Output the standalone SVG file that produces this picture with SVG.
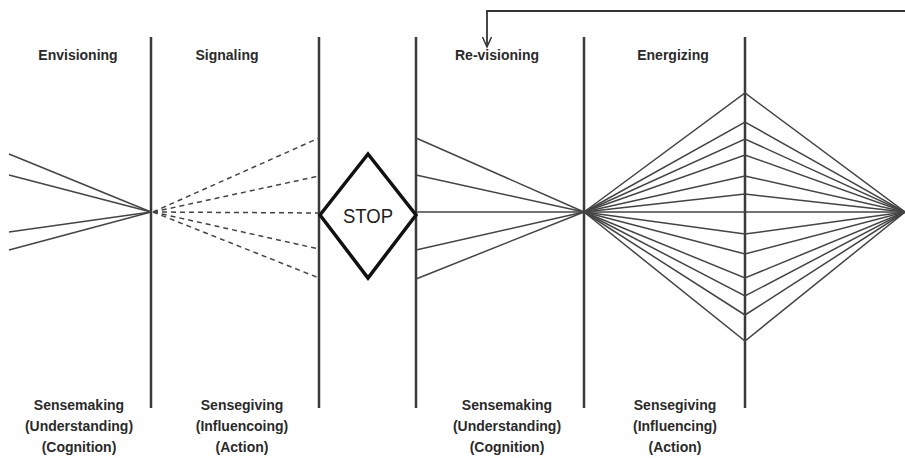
<svg xmlns="http://www.w3.org/2000/svg" width="905" height="458" viewBox="0 0 905 458">
<style>
.lbl{font-family:"Liberation Sans",Arial,sans-serif;font-weight:bold;font-size:14px;fill:#2a2a2a;text-anchor:middle}
.vl{stroke:#3a3a3a;stroke-width:2.5;fill:none}
.ln{stroke:#444;stroke-width:1.5;fill:none}
.ds{stroke:#444;stroke-width:1.5;fill:none;stroke-dasharray:5 4}
</style>
<rect width="905" height="458" fill="#fff"/>
<g id="dividers">
<line class="vl" x1="151" y1="37" x2="151" y2="408"/>
<line class="vl" x1="319" y1="37" x2="319" y2="408"/>
<line class="vl" x1="416" y1="37" x2="416" y2="408"/>
<line class="vl" x1="584" y1="37" x2="584" y2="408"/>
<line class="vl" x1="745" y1="37" x2="745" y2="408"/>
</g>
<g id="connectors">
<path d="M905,11 H487 V46" fill="none" stroke="#333" stroke-width="1.8"/>
<path d="M482.5,37 L487,47 L491.5,37" fill="none" stroke="#333" stroke-width="1.5"/>
<g id="envisioning-lines">
<line class="ln" x1="9" y1="154" x2="151" y2="212"/>
<line class="ln" x1="9" y1="175" x2="151" y2="212"/>
<line class="ln" x1="9" y1="232" x2="151" y2="212"/>
<line class="ln" x1="9" y1="250" x2="151" y2="212"/>
</g>
<g id="signaling-lines">
<line class="ds" x1="153" y1="212" x2="319" y2="138"/>
<line class="ds" x1="153" y1="212" x2="319" y2="176"/>
<line class="ds" x1="153" y1="212" x2="319" y2="213"/>
<line class="ds" x1="153" y1="212" x2="319" y2="249"/>
<line class="ds" x1="153" y1="212" x2="319" y2="278"/>
</g>
<g id="revisioning-lines">
<line class="ln" x1="416" y1="138" x2="584" y2="212"/>
<line class="ln" x1="416" y1="175" x2="584" y2="212"/>
<line class="ln" x1="416" y1="212" x2="905" y2="212"/>
<line class="ln" x1="416" y1="250" x2="584" y2="212"/>
<line class="ln" x1="416" y1="279" x2="584" y2="212"/>
</g>
<g id="energizing-lines">
<polyline class="ln" points="584,212 745,93 905,212"/>
<polyline class="ln" points="584,212 745,122 905,212"/>
<polyline class="ln" points="584,212 745,139 905,212"/>
<polyline class="ln" points="584,212 745,155 905,212"/>
<polyline class="ln" points="584,212 745,176 905,212"/>
<polyline class="ln" points="584,212 745,194 905,212"/>
<polyline class="ln" points="584,212 745,234 905,212"/>
<polyline class="ln" points="584,212 745,254 905,212"/>
<polyline class="ln" points="584,212 745,278 905,212"/>
<polyline class="ln" points="584,212 745,296 905,212"/>
<polyline class="ln" points="584,212 745,315 905,212"/>
<polyline class="ln" points="584,212 745,341 905,212"/>
</g>
</g>
<g id="stop">
<polygon points="368,154 416,215 368,278 320,215" fill="#fff" stroke="#111" stroke-width="3.5" stroke-linejoin="miter"/>
<text x="368" y="223" font-family="Liberation Sans,Arial,sans-serif" font-size="21" fill="#222" text-anchor="middle" textLength="50" lengthAdjust="spacingAndGlyphs">STOP</text>
</g>
<g id="envisioning">
<text class="lbl" x="78" y="60">Envisioning</text>
<text class="lbl" x="79" y="410">Sensemaking</text>
<text class="lbl" x="79" y="431">(Understanding)</text>
<text class="lbl" x="79" y="452">(Cognition)</text>
</g>
<g id="signaling">
<text class="lbl" x="227" y="60">Signaling</text>
<text class="lbl" x="242" y="410">Sensegiving</text>
<text class="lbl" x="242" y="431">(Influencoing)</text>
<text class="lbl" x="242" y="452">(Action)</text>
</g>
<g id="revisioning">
<text class="lbl" x="497" y="60">Re-visioning</text>
<text class="lbl" x="507" y="410">Sensemaking</text>
<text class="lbl" x="507" y="431">(Understanding)</text>
<text class="lbl" x="507" y="452">(Cognition)</text>
</g>
<g id="energizing">
<text class="lbl" x="673" y="60">Energizing</text>
<text class="lbl" x="675" y="410">Sensegiving</text>
<text class="lbl" x="675" y="431">(Influencing)</text>
<text class="lbl" x="675" y="452">(Action)</text>
</g>
</svg>
